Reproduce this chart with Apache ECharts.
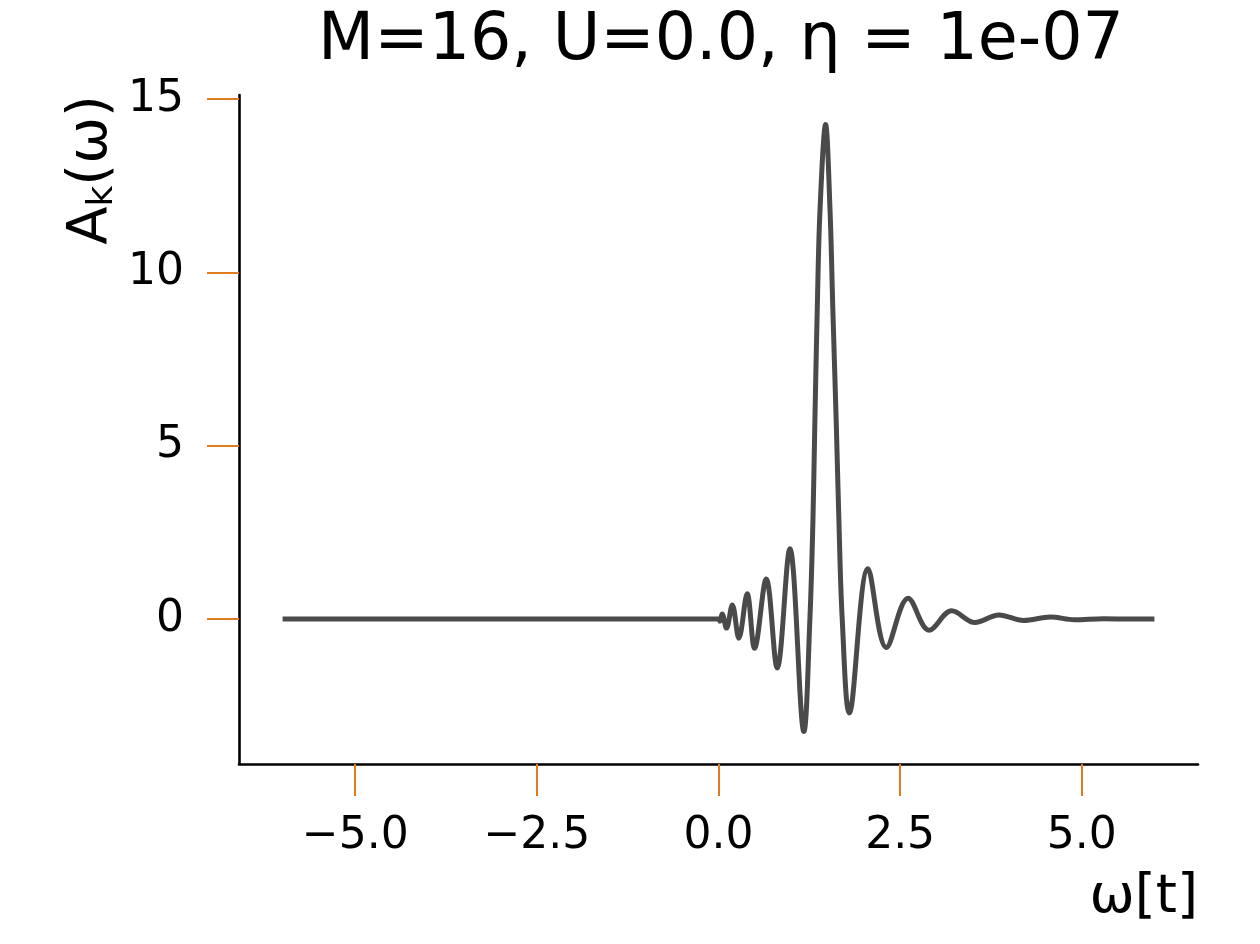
<!DOCTYPE html>
<html>
<head>
<meta charset="utf-8">
<script src="https://cdn.jsdelivr.net/npm/echarts@6/dist/echarts.min.js"></script>
<style>
  html, body { margin: 0; padding: 0; background: #fff; }
  #chart { width: 1260px; height: 944px; }
</style>
</head>
<body>
<div id="chart"></div>
<script>
  // values (turning points + the flanks of the main peak)
  const omega = [-6.0, 0.0, 0.02, 0.05, 0.11, 0.19, 0.28, 0.395, 0.496,
    0.657, 0.808, 0.982, 1.175, 1.258, 1.30, 1.326, 1.359, 1.397, 1.474,
    1.535, 1.574, 1.621, 1.657, 1.703, 1.80, 2.057, 2.31, 2.61, 2.90,
    3.21, 3.53, 3.86, 4.20, 4.57, 4.90, 5.3, 5.7, 6.0];
  const amplitude = [0, 0, -0.06, 0.15, -0.26, 0.41, -0.55, 0.73, -0.84,
    1.16, -1.41, 2.03, -3.24, 0, 2.86, 5.65, 8.92, 11.8, 14.27,
    11.8, 8.92, 5.65, 2.86, 0, -2.71, 1.45, -0.82, 0.6, -0.32,
    0.24, -0.1, 0.12, -0.04, 0.06, -0.02, 0.01, 0, 0];
  const xTicks = [-5, -2.5, 0, 2.5, 5];
  const yTicks = [0, 5, 10, 15];

  const font = 'DejaVu Sans';
  const tickColor = '#df7d1e';

  const chart = echarts.init(document.getElementById('chart'));

  const option = {
    animation: false,
    title: {
      text: 'M=16, U=0.0, η = 1e-07',
      left: 716,
      top: 5,
      textAlign: 'center',
      textStyle: { fontFamily: font, fontSize: 65, fontWeight: 'normal', color: '#000' }
    },
    grid: { left: 239, right: 62, top: 95, bottom: 180, containLabel: false },
    xAxis: {
      type: 'value',
      min: -6.6,
      max: 6.6,
      axisLine: { onZero: false, lineStyle: { color: '#000', width: 2.6 } },
      axisTick: { customValues: xTicks, length: 32, lineStyle: { color: tickColor, width: 2 } },
      axisLabel: {
        customValues: xTicks,
        margin: 51,
        fontFamily: font, fontSize: 44, color: '#000',
        formatter: v => (v < 0 ? '\u2212' : '') + Math.abs(v).toFixed(1)
      },
      splitLine: { show: false }
    },
    yAxis: {
      type: 'value',
      min: -4.18,
      max: 15.12,
      axisLine: { show: true, onZero: false, lineStyle: { color: '#000', width: 2.6 } },
      axisTick: { show: true, customValues: yTicks, length: 32, lineStyle: { color: tickColor, width: 2 } },
      axisLabel: {
        customValues: yTicks,
        margin: 55,
        fontFamily: font, fontSize: 44, color: '#000',
        formatter: v => String(v)
      },
      splitLine: { show: false }
    },
    graphic: [
      {
        type: 'text',
        x: 91, y: 170,
        rotation: Math.PI / 2,
        style: {
          text: '{a|A}{k|k}{a|(ω)}',
          align: 'center',
          verticalAlign: 'middle',
          rich: {
            a: { fontFamily: font, fontSize: 56, lineHeight: 60, fill: '#000' },
            k: { fontFamily: font, fontSize: 36, lineHeight: 30, verticalAlign: 'bottom', fill: '#000' }
          }
        }
      },
      {
        type: 'text',
        x: 1198, y: 898,
        style: {
          text: 'ω[t]',
          align: 'right',
          verticalAlign: 'middle',
          fontFamily: font, fontSize: 54, fill: '#000'
        }
      }
    ],
    series: [
      {
        type: 'line',
        data: omega.map((w, i) => [w, amplitude[i]]),
        showSymbol: false,
        smooth: 0.36,
        lineStyle: { color: '#4a4a4a', width: 5 },
        itemStyle: { color: '#4a4a4a' }
      }
    ]
  };

  chart.setOption(option);
</script>
</body>
</html>
